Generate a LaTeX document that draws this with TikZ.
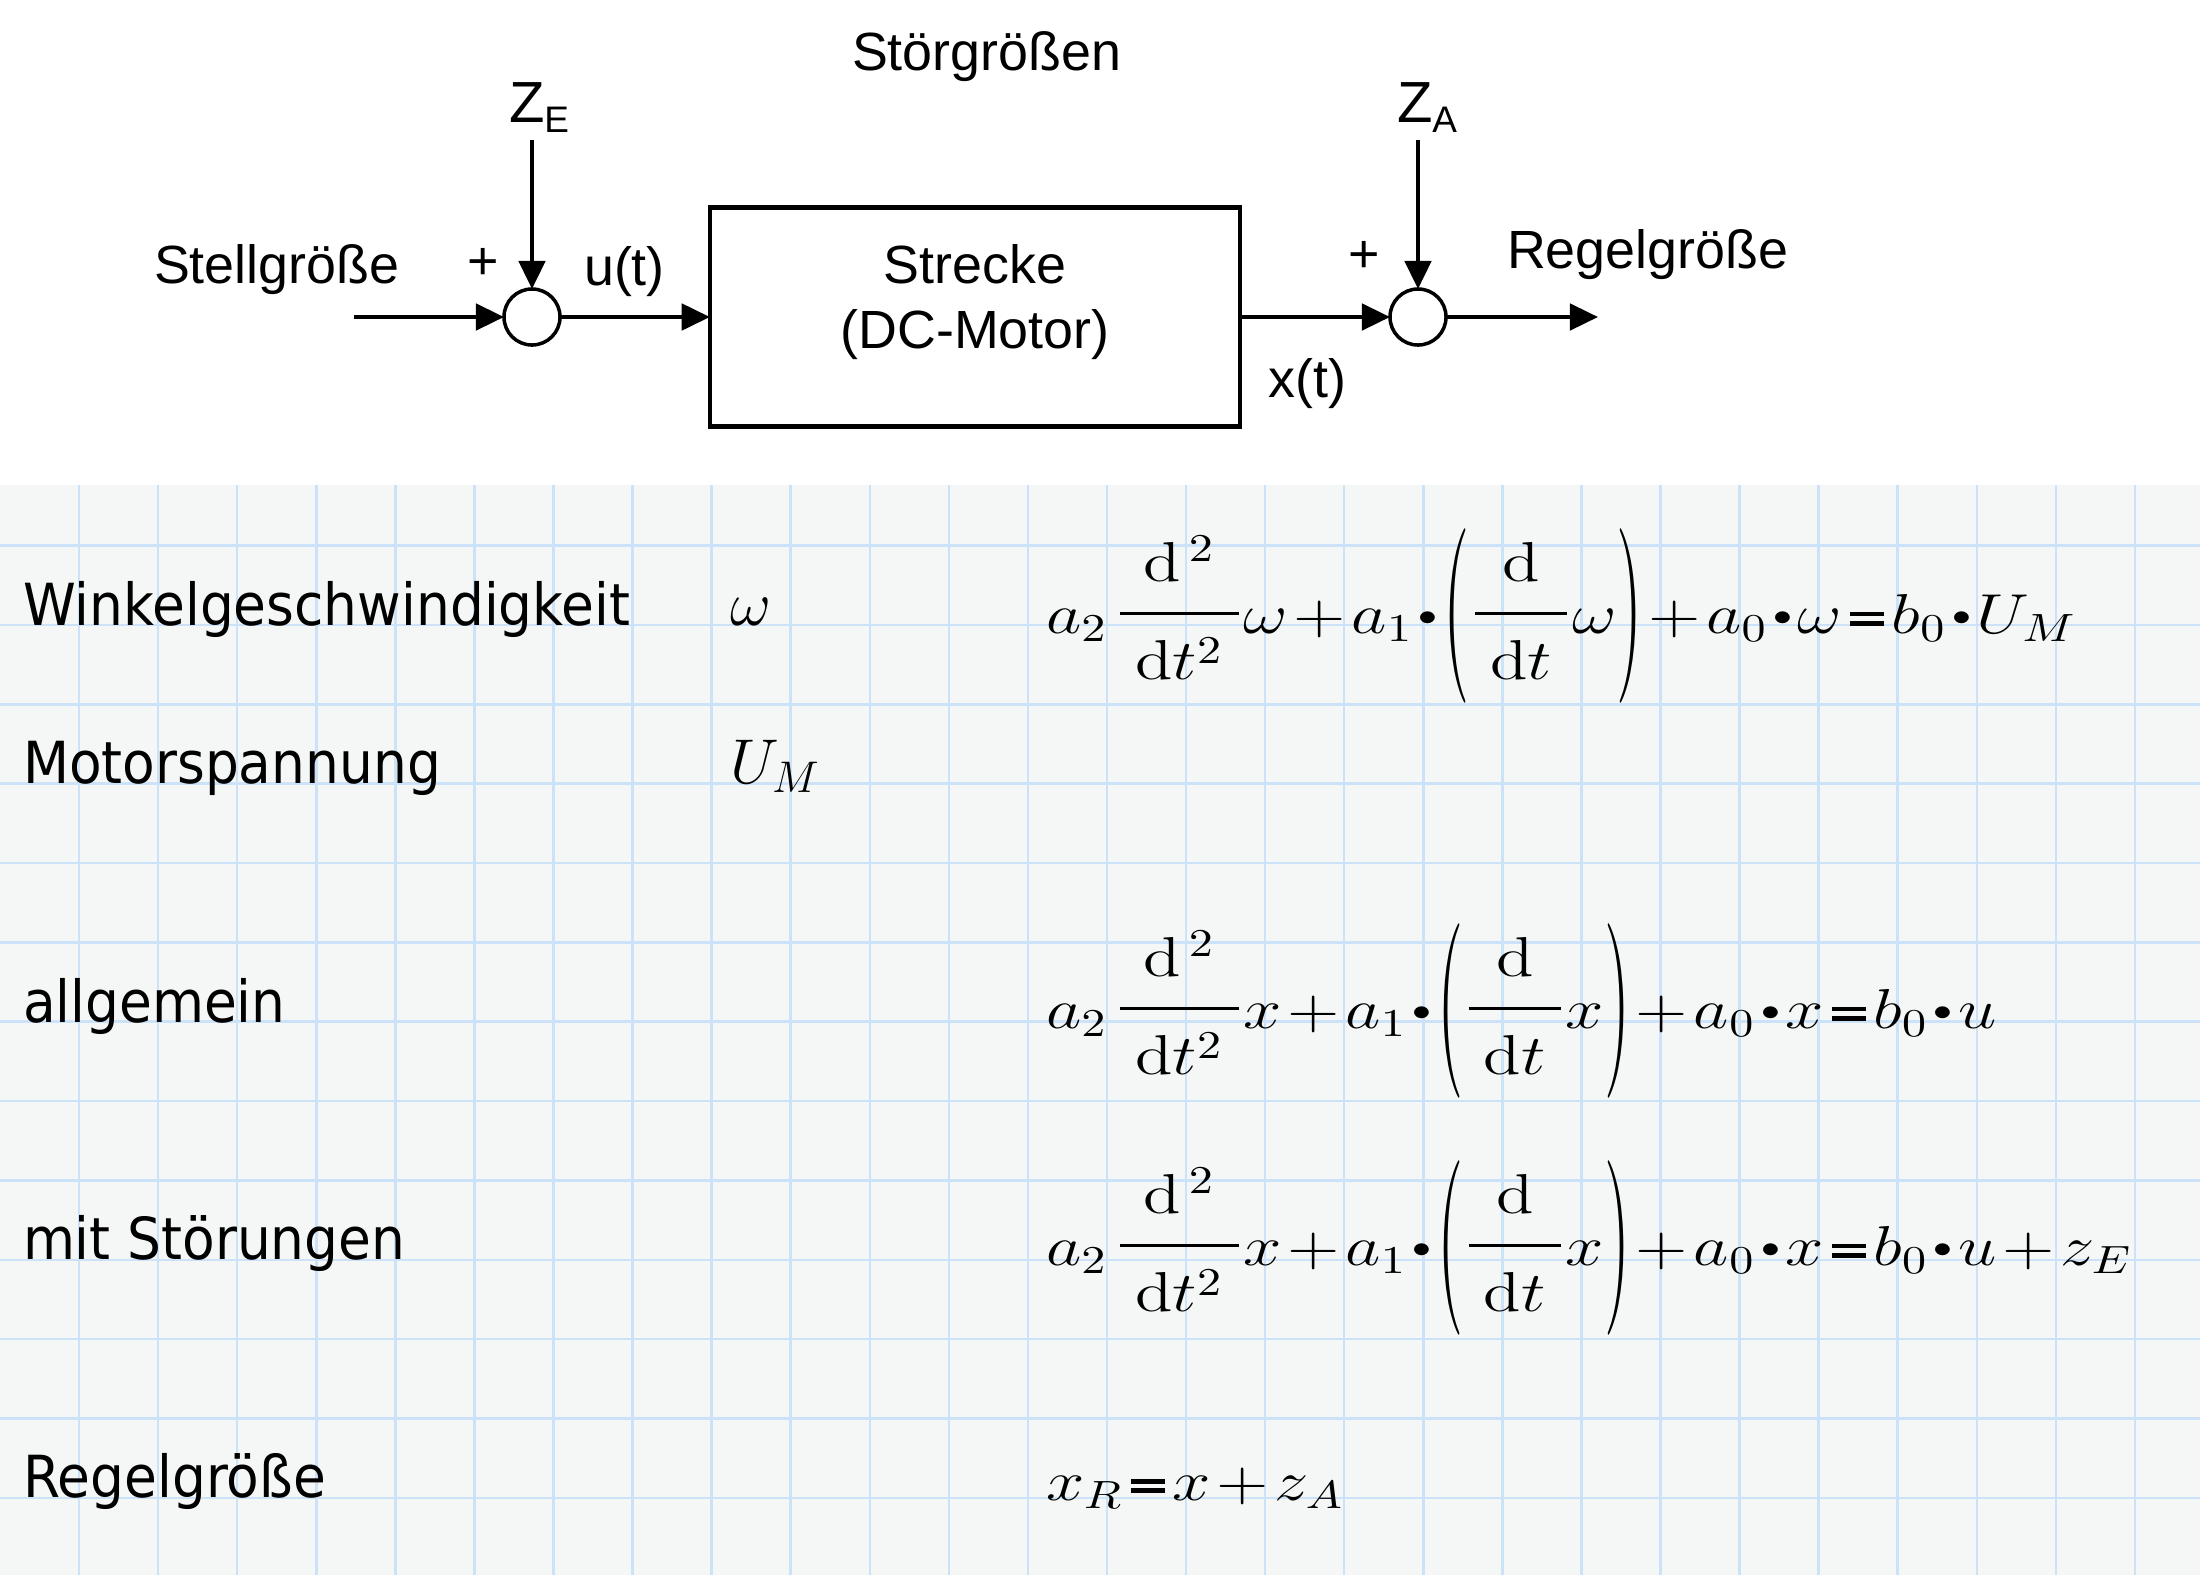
\RequirePackage{fix-cm}
\documentclass[tikz,border=0pt]{standalone}
\usepackage[no-math]{fontspec}
\usepackage{amsmath,graphicx}
\usetikzlibrary{arrows.meta}
\newfontfamily\arialfont{Liberation Sans}
\newfontfamily\sheetfont[FakeStretch=0.92]{DejaVu Sans}
\definecolor{sheetbg}{RGB}{244,247,245}
\definecolor{sheetgrid}{RGB}{204,226,248}
\newcommand{\mcdot}{\mathbin{\vcenter{\hbox{\scalebox{0.55}{$\bullet$}}}}}
\newcommand{\beq}{\mathrel{\vcenter{\hrule width 8pt height 1.3pt\vskip1.4pt\hrule width 8pt height 1.3pt}}}
\newcommand{\mcfrac}[2]{\raisebox{0.1em}{$\displaystyle\genfrac{}{}{0.8pt}{}{\mkern4mu#1\rule[-0.39em]{0pt}{0pt}\mkern4mu}{\mkern4mu\rule{0pt}{1em}#2\mkern4mu}$}}
\newcommand{\mcparen}[1]{\mathopen{\raisebox{-7.6pt}{\scalebox{1}[3.1]{$($}}}#1\mathclose{\raisebox{-7.6pt}{\scalebox{1}[3.1]{$)$}}}}
\newcommand{\mceq}[1]{\scalebox{1.22}[1]{$#1$}}
\newcommand{\zsub}[2]{#1\raisebox{-3.1pt}{\fontsize{10.5}{12}\selectfont #2}}

\begin{document}
\begin{tikzpicture}[x=0.01cm,y=-0.01cm,inner sep=0pt,outer sep=0pt,line width=1.1pt,
>={Triangle[length=8pt,width=7.5pt]},
sumpoint/.style={draw,circle,minimum size=0.56cm,line width=1pt},
sysblock/.style={draw,rectangle,minimum width=5.3cm,minimum height=2.19cm,line width=1.3pt},
blocktext/.style={font={\arialfont\fontsize{15.3}{18.5}\selectfont}},
zlabel/.style={font={\arialfont\fontsize{16.5}{20}\selectfont},anchor=base west},
sheettext/.style={font={\sheetfont\fontsize{16.5}{20}\selectfont},anchor=base west},
sheetmath/.style={font={\fontsize{18}{20}\selectfont},anchor=base west},
sheeteq/.style={font={\fontsize{16}{19}\selectfont\medmuskip=1.5mu\thickmuskip=2mu},anchor=base west},
gridline/.style={draw=sheetgrid,line width=0.7pt}]

% page and worksheet
\useasboundingbox[fill=white] (0,0) rectangle (2200,1575);
\fill[sheetbg] (0,485) rectangle (2200,1575);
\foreach \k in {1,...,27} \draw[gridline] (\k*79.07,485) -- (\k*79.07,1575);
\foreach \k in {0,...,12} \draw[gridline] (0,545.6+\k*79.35) -- (2200,545.6+\k*79.35);

% block diagram
\draw (532,317) node[sumpoint] (sum1) {};
\draw (975,317) node[sysblock] (plant) {};
\draw (1418,317) node[sumpoint] (sum2) {};
\node[blocktext,align=center] (planttxt) at (975,302) {Strecke\\(DC-Motor)};

\coordinate (uin) at (354,317);
\coordinate (yout) at (1598,317);
\coordinate (zEin) at (532,140);
\coordinate (zAin) at (1418,140);

\node[blocktext,anchor=base west] (stell) at (154,283) {Stellgröße};
\node[blocktext,anchor=base west] (stoer) at (852,70) {Störgrößen};
\node[blocktext,anchor=base west] (regel) at (1507,268) {Regelgröße};
\node[blocktext] (plus1) at (483,264) {+};
\node[blocktext] (plus2) at (1364,257) {+};
\node[zlabel] (zE) at (509,122) {\zsub{Z}{E}};
\node[zlabel] (zA) at (1397,122) {\zsub{Z}{A}};

\draw[->] (uin) -- (sum1);
\draw[->] (zEin) -- (sum1);
\draw[->] (sum1) -- node[blocktext,above=5.7pt,pos=.43] (ulbl) {u(t)} (plant);
\draw[->] (plant) -- node[blocktext,below=11.7pt,pos=.45] (xlbl) {x(t)} (sum2);
\draw[->] (zAin) -- (sum2);
\draw[->] (sum2) -- (yout);

% worksheet
\node[sheettext] (winkel) at (23,625) {Winkelgeschwindigkeit};
\node[sheettext] (motor) at (23,783) {Motorspannung};
\node[sheettext] (allg) at (23,1022) {allgemein};
\node[sheettext] (stoerung) at (23,1259) {mit Störungen};
\node[sheettext] (regelgr) at (23,1497) {Regelgröße};
\node[sheetmath] (omega) at (730,625) {$\omega$};
\node[sheetmath] (um) at (730,783) {$U_M$};

\node[sheeteq] (eqomega) at (1046,633) {\mceq{a_2\;\mcfrac{\mathrm{d}^{\,2}}{\mathrm{d}t^2}\omega+a_1\mcdot\mcparen{\mcfrac{\mathrm{d}}{\mathrm{d}t}\omega}+a_0\mcdot\omega\beq b_0\mcdot U_M}};
\node[sheeteq] (eqx) at (1046,1028) {\mceq{a_2\;\mcfrac{\mathrm{d}^{\,2}}{\mathrm{d}t^2}x+a_1\mcdot\mcparen{\mcfrac{\mathrm{d}}{\mathrm{d}t}x}+a_0\mcdot x\beq b_0\mcdot u}};
\node[sheeteq] (eqxz) at (1046,1265) {\mceq{a_2\;\mcfrac{\mathrm{d}^{\,2}}{\mathrm{d}t^2}x+a_1\mcdot\mcparen{\mcfrac{\mathrm{d}}{\mathrm{d}t}x}+a_0\mcdot x\beq b_0\mcdot u+z_E}};
\node[sheeteq] (eqxr) at (1046,1500) {\mceq{x_R\beq x+z_A}};
\end{tikzpicture}
\end{document}
